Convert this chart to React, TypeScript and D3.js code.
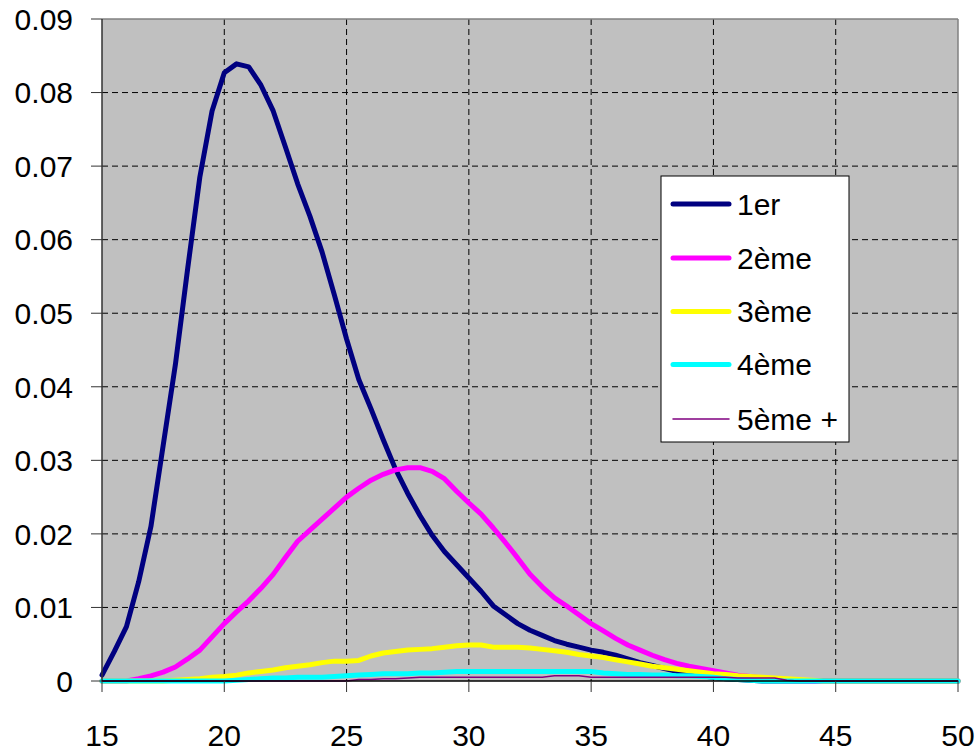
import React from "react";
import * as d3 from "d3";

const ages = [15,15.5,16,16.5,17,17.5,18,18.5,19,19.5,20,20.5,21,21.5,22,22.5,23,23.5,24,24.5,25,25.5,26,26.5,27,27.5,28,28.5,29,29.5,30,30.5,31,31.5,32,32.5,33,33.5,34,34.5,35,35.5,36,36.5,37,37.5,38,38.5,39,39.5,40,40.5,41,41.5,42,42.5,43,43.5,44,44.5,45,45.5,46,46.5,47,47.5,48,48.5,49,49.5,50];

const rang1 = [0.0008,0.004,0.0074,0.0135,0.021,0.032,0.043,0.056,0.0685,0.0775,0.0827,0.0839,0.0835,0.081,0.0775,0.0726,0.0676,0.0632,0.0583,0.0525,0.0465,0.041,0.037,0.0328,0.0288,0.0255,0.0225,0.0198,0.0176,0.0158,0.014,0.0122,0.0102,0.009,0.0078,0.0069,0.0062,0.0055,0.005,0.0046,0.0042,0.0039,0.0035,0.003,0.0025,0.0021,0.0017,0.0013,0.001,0.0007,0.0005,0.0003,0.0002,0.0001,0,0,0,0,0,0,0,0,0,0,0,0,0,0,0,0,0];
const rang2 = [0,0,0,0.0003,0.0007,0.0012,0.0019,0.003,0.0042,0.006,0.0078,0.0094,0.0109,0.0126,0.0145,0.0168,0.019,0.0205,0.022,0.0235,0.025,0.0262,0.0273,0.0281,0.0287,0.029,0.029,0.0285,0.0275,0.0258,0.0242,0.0227,0.0208,0.0188,0.0167,0.0145,0.0128,0.0113,0.0102,0.009,0.0078,0.0068,0.0058,0.0049,0.0042,0.0035,0.0029,0.0024,0.002,0.0017,0.0014,0.0011,0.0008,0.0006,0.0004,0.0003,0.0002,0.0001,0,0,0,0,0,0,0,0,0,0,0,0,0];
const rang3 = [0,0,0,0,0,0,0.0001,0.0002,0.0003,0.0005,0.0006,0.0008,0.0011,0.0013,0.0015,0.0018,0.002,0.0022,0.0025,0.0027,0.0027,0.0028,0.0034,0.0038,0.004,0.0042,0.0043,0.0044,0.0046,0.0048,0.0049,0.0049,0.0046,0.0046,0.0046,0.0045,0.0043,0.0041,0.0039,0.0036,0.0034,0.0032,0.0029,0.0026,0.0023,0.002,0.0018,0.0016,0.0014,0.0012,0.001,0.0009,0.0007,0.0006,0.0005,0.0004,0.0003,0.0002,0.0001,0,0,0,0,0,0,0,0,0,0,0,0];
const rang4 = [0,0,0,0,0,0,0,0,0,0,0,0.0001,0.0002,0.0003,0.0004,0.0004,0.0005,0.0005,0.0005,0.0006,0.0007,0.0008,0.0009,0.001,0.001,0.001,0.0011,0.0011,0.0012,0.0013,0.0013,0.0013,0.0013,0.0013,0.0013,0.0013,0.0013,0.0013,0.0013,0.0013,0.0013,0.0011,0.001,0.0009,0.0009,0.0008,0.0008,0.0007,0.0007,0.0006,0.0005,0.0003,0.0002,0.0001,0,0,0,0,0,0,0,0,0,0,0,0,0,0,0,0,0];
const rang5 = [0,0,0,0,0,0,0,0,0,0,0,0,0,0,0,0,0,0,0,0,0,0.0002,0.0002,0.0003,0.0003,0.0004,0.0005,0.0005,0.0005,0.0005,0.0005,0.0005,0.0005,0.0005,0.0005,0.0005,0.0005,0.0007,0.0007,0.0007,0.0005,0.0005,0.0005,0.0005,0.0005,0.0005,0.0005,0.0005,0.0005,0.0005,0.0005,0.0005,0.0004,0.0004,0.0004,0.0004,0.0001,0,0,0,0,0,0,0,0,0,0,0,0,0,0];

const seriesNames = ["1er", "2ème", "3ème", "4ème", "5ème +"];
const seriesValues = [rang1, rang2, rang3, rang4, rang5];
const seriesColors = ["#000080", "#FF00FF", "#FFFF00", "#00FFFF", "#800080"];
const seriesWidths = [5, 5, 5, 5, 1.5];

const xTicks = [15, 20, 25, 30, 35, 40, 45, 50];
const yTicks = [0, 0.01, 0.02, 0.03, 0.04, 0.05, 0.06, 0.07, 0.08, 0.09];

const W = 978, H = 751;
const L = 102, R = 958, T = 19, B = 681;
const FONT = "'Liberation Sans', Arial, sans-serif";

export default function App() {
  const x = d3.scaleLinear().domain([15, 50]).range([L, R]);
  const y = d3.scaleLinear().domain([0, 0.09]).range([B, T]);
  const line = d3.line<[number, number]>().x(d => x(d[0])).y(d => y(d[1]));

  const legX = 661, legY = 176, legW = 188, legH = 266;
  const legRowY = [204, 258, 311.5, 364.5, 419];

  return (
    <svg width={W} height={H} style={{ position: "absolute", left: 0, top: 0 }} fontFamily={FONT}>
      <rect x={0} y={0} width={W} height={H} fill="#fff" />
      <rect x={L} y={T} width={R - L} height={B - T} fill="#C0C0C0" />
      {yTicks.filter(t => t > 0 && t < 0.09).map(t => (
        <line key={"gy" + t} x1={L} x2={R} y1={y(t)} y2={y(t)} stroke="#000" strokeWidth={1} strokeDasharray="6,4" />
      ))}
      {xTicks.filter(t => t > 15 && t < 50).map(t => (
        <line key={"gx" + t} x1={x(t)} x2={x(t)} y1={T} y2={B} stroke="#000" strokeWidth={1} strokeDasharray="6,4" />
      ))}
      <line x1={L} x2={R} y1={T} y2={T} stroke="#808080" strokeWidth={1.5} />
      <line x1={R} x2={R} y1={T} y2={B} stroke="#808080" strokeWidth={1.5} />
      {seriesValues.map((vals, i) => (
        <path key={"s" + i} d={line(ages.map((a, j) => [a, vals[j]] as [number, number])) || ""}
          fill="none" stroke={seriesColors[i]} strokeWidth={seriesWidths[i]} strokeLinejoin="round" strokeLinecap="round" />
      ))}
      <line x1={L} x2={L} y1={T} y2={B} stroke="#333" strokeWidth={1.5} />
      <line x1={L} x2={R} y1={B} y2={B} stroke="#000" strokeWidth={1.5} />
      {yTicks.map(t => (
        <g key={"ty" + t}>
          <line x1={L - 11} x2={L} y1={y(t)} y2={y(t)} stroke="#333" strokeWidth={1} />
          <text x={73} y={y(t)} dy="0.36em" textAnchor="end" fontSize={30} fill="#000">{t === 0 ? "0" : t.toFixed(2)}</text>
        </g>
      ))}
      {xTicks.map(t => (
        <g key={"tx" + t}>
          <line x1={x(t)} x2={x(t)} y1={B} y2={B + 11} stroke="#333" strokeWidth={1} />
          <text x={x(t)} y={746} textAnchor="middle" fontSize={30} fill="#000">{t}</text>
        </g>
      ))}
      <rect x={legX} y={legY} width={legW} height={legH} fill="#fff" stroke="#000" strokeWidth={1} />
      {seriesNames.map((n, i) => (
        <g key={"lg" + i}>
          <line x1={673} x2={729} y1={legRowY[i]} y2={legRowY[i]} stroke={seriesColors[i]} strokeWidth={i === 4 ? 1.5 : 5} strokeLinecap="round" />
          <text x={737} y={legRowY[i]} dy="0.36em" fontSize={30} fill="#000">{n}</text>
        </g>
      ))}
    </svg>
  );
}
